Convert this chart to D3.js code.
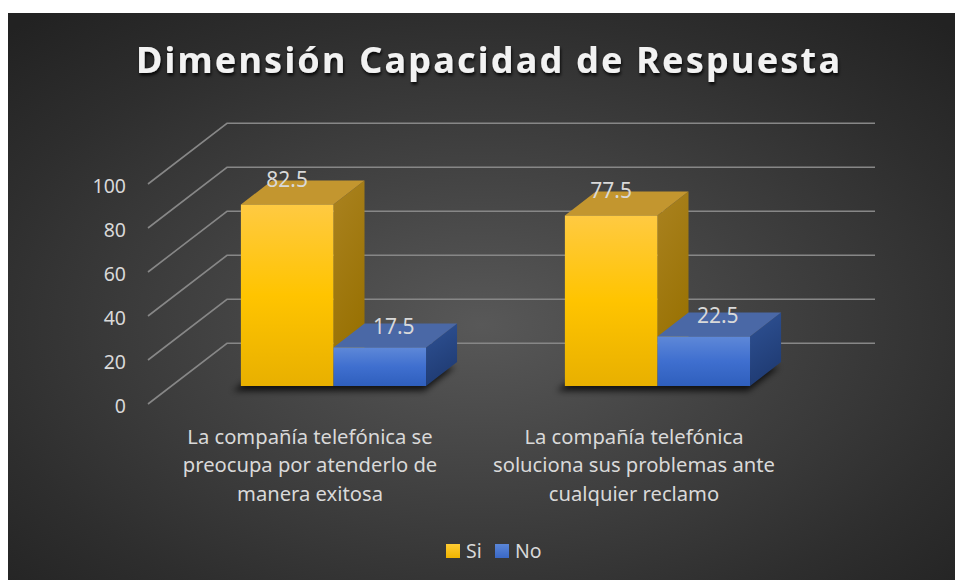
<!DOCTYPE html>
<html>
<head>
<meta charset="utf-8">
<script src="https://cdn.jsdelivr.net/npm/d3@7"></script>
<style>
  html, body { margin: 0; padding: 0; background: #fff; }
  svg { display: block; font-family: "Noto Sans", "Open Sans", sans-serif; }
</style>
</head>
<body>
<div id="chart"></div>
<script>
// chart data
const title = "Dimensión Capacidad de Respuesta";
const categoryLines = [
  ["La compañía telefónica se", "preocupa por atenderlo de", "manera exitosa"],
  ["La compañía telefónica", "soluciona sus problemas ante", "cualquier reclamo"]
];
const categories = categoryLines.map((l) => l.join(" "));
const seriesNames = ["Si", "No"];
const siValues = [82.5, 77.5];
const noValues = [17.5, 22.5];
const yTicks = [0, 20, 40, 60, 80, 100];

const width = 955, height = 580;
const frame = { left: 8, top: 13 };
const plot = { left: 148, right: 796, floor: 404, top: 184 };
const depth = { dx: 79, dy: -60.7 };
const barZ = [0.297, 0.69];

const seriesStyle = {
  Si: { front: ["#ffca42", "#ffc400", "#e8b000"], side: ["#aa8220", "#977000"], top: "#c3962f",
        legend: ["#ffcc33", "#f0b400"], labelDx: 0, labelDy: -17.5 },
  No: { front: ["#5e88d8", "#3f6fcf", "#2f5fbd"], side: ["#2f5295", "#1f3b73"], top: "#4a68a6",
        legend: ["#5a86d8", "#3a68c6"], labelDx: 14, labelDy: -13.6 }
};

const svg = d3.select("#chart").append("svg")
  .attr("width", width)
  .attr("height", height);

const defs = svg.append("defs");

const bg = defs.append("radialGradient").attr("id", "bg")
  .attr("cx", 0.5).attr("cy", 0.55).attr("r", 0.72);
bg.append("stop").attr("offset", 0).attr("stop-color", "#585858");
bg.append("stop").attr("offset", 0.75).attr("stop-color", "#2e2e2e");
bg.append("stop").attr("offset", 1).attr("stop-color", "#222");

const titleShadow = defs.append("filter").attr("id", "titleShadow")
  .attr("x", -0.1).attr("y", -0.3).attr("width", 1.2).attr("height", 1.6);
titleShadow.append("feDropShadow")
  .attr("dx", 1).attr("dy", 2.5).attr("stdDeviation", 1.6)
  .attr("flood-color", "#000").attr("flood-opacity", 0.85);

const floorBlur = defs.append("filter").attr("id", "floorBlur")
  .attr("x", -0.3).attr("y", -0.5).attr("width", 1.6).attr("height", 2);
floorBlur.append("feGaussianBlur").attr("stdDeviation", 3);

seriesNames.forEach((s) => {
  const st = seriesStyle[s];
  const fg = defs.append("linearGradient").attr("id", `front-${s}`)
    .attr("x1", 0).attr("y1", 0).attr("x2", 0).attr("y2", 1);
  st.front.forEach((c, i) => fg.append("stop").attr("offset", i / (st.front.length - 1)).attr("stop-color", c));
  const sg = defs.append("linearGradient").attr("id", `side-${s}`)
    .attr("x1", 0).attr("y1", 0).attr("x2", 0.3).attr("y2", 1);
  st.side.forEach((c, i) => sg.append("stop").attr("offset", i).attr("stop-color", c));
  const lg = defs.append("linearGradient").attr("id", `legend-${s}`)
    .attr("x1", 0).attr("y1", 0).attr("x2", 0).attr("y2", 1);
  st.legend.forEach((c, i) => lg.append("stop").attr("offset", i).attr("stop-color", c));
});

svg.append("rect")
  .attr("x", frame.left).attr("y", frame.top)
  .attr("width", width - frame.left).attr("height", height - frame.top)
  .attr("fill", "url(#bg)");

svg.append("text")
  .attr("x", 488).attr("y", 73)
  .attr("text-anchor", "middle")
  .attr("font-size", 36).attr("font-weight", 700)
  .attr("fill", "#f2f2f2")
  .attr("textLength", 704).attr("lengthAdjust", "spacing")
  .attr("filter", "url(#titleShadow)")
  .text(title);

// scales
const x = d3.scaleBand().domain(categories).range([plot.left, plot.right]);
const xs = d3.scaleBand().domain(seriesNames).range([0, x.bandwidth()])
  .paddingInner(0).paddingOuter(0.75);
const y = d3.scaleLinear().domain([0, 100]).range([plot.floor, plot.top]);

const proj = (px, py, z) => [px + z * depth.dx, py + z * depth.dy];
const pts = (arr) => arr.map((p) => p.join(",")).join(" ");

// gridlines: left wall diagonal + back wall
svg.append("g").attr("class", "grid")
  .selectAll("polyline")
  .data(yTicks)
  .join("polyline")
  .attr("points", (t) => pts([
    [plot.left, y(t)],
    proj(plot.left, y(t), 1),
    proj(plot.right, y(t), 1)
  ]))
  .attr("fill", "none")
  .attr("stroke", "#878787")
  .attr("stroke-width", 1.6);

// y axis labels
const yAxisG = svg.append("g")
  .attr("transform", `translate(${plot.left},2)`)
  .call(d3.axisLeft(y).tickValues(yTicks).tickSize(0).tickPadding(22));
yAxisG.select(".domain").remove();
yAxisG.selectAll("text")
  .attr("font-size", 19.5).attr("fill", "#d9d9d9")
  .attr("font-family", "'Noto Sans', sans-serif");

// category labels
const xAxisG = svg.append("g")
  .attr("transform", `translate(0,${plot.floor})`)
  .call(d3.axisBottom(x).tickSize(0).tickPadding(0));
xAxisG.select(".domain").remove();
xAxisG.selectAll("text")
  .attr("font-size", 20.2).attr("fill", "#d9d9d9")
  .attr("font-family", "'Noto Sans', sans-serif")
  .attr("dy", null).attr("y", 0)
  .each(function (d, i) {
    const t = d3.select(this).text(null);
    categoryLines[i].forEach((line, j) => {
      t.append("tspan").attr("x", 0).attr("y", 39.5 + j * 28.5).text(line);
    });
  });

// bars
const rows = categories.map((c, i) => ({ category: c, values: { Si: siValues[i], No: noValues[i] } }));
const barData = rows.flatMap((r) => seriesNames.map((s) => ({ category: r.category, series: s, value: r.values[s] })));

const geom = (d) => {
  const xl = x(d.category) + xs(d.series);
  const xr = xl + xs.bandwidth();
  const yt = y(d.value), yb = y(0);
  return { xl, xr, yt, yb };
};

// floor shadows
svg.append("g").attr("class", "shadows")
  .selectAll("polygon")
  .data(categories)
  .join("polygon")
  .attr("points", (c) => {
    const xl = x(c) + xs(seriesNames[0]) - 8;
    const xr = x(c) + xs(seriesNames[seriesNames.length - 1]) + xs.bandwidth() - 2;
    const yb = y(0) + 5;
    return pts([proj(xl, yb, barZ[0]), proj(xr, yb, barZ[0]), proj(xr, yb, barZ[1]), proj(xl, yb, barZ[1])]);
  })
  .attr("fill", "#000")
  .attr("opacity", 0.75)
  .attr("filter", "url(#floorBlur)");

const bars = svg.append("g").attr("class", "bars")
  .selectAll("g")
  .data(barData)
  .join("g");

bars.append("polygon")
  .attr("points", (d) => {
    const g = geom(d);
    return pts([proj(g.xr, g.yt, barZ[0]), proj(g.xr, g.yt, barZ[1]), proj(g.xr, g.yb, barZ[1]), proj(g.xr, g.yb, barZ[0])]);
  })
  .attr("fill", (d) => `url(#side-${d.series})`);

bars.append("polygon")
  .attr("points", (d) => {
    const g = geom(d);
    return pts([proj(g.xl, g.yt, barZ[0]), proj(g.xr, g.yt, barZ[0]), proj(g.xr, g.yt, barZ[1]), proj(g.xl, g.yt, barZ[1])]);
  })
  .attr("fill", (d) => seriesStyle[d.series].top);

bars.append("polygon")
  .attr("points", (d) => {
    const g = geom(d);
    return pts([proj(g.xl, g.yt, barZ[0]), proj(g.xr, g.yt, barZ[0]), proj(g.xr, g.yb, barZ[0]), proj(g.xl, g.yb, barZ[0])]);
  })
  .attr("fill", (d) => `url(#front-${d.series})`);

// value labels
svg.append("g").attr("class", "labels")
  .selectAll("text")
  .data(barData)
  .join("text")
  .attr("x", (d) => {
    const g = geom(d);
    return proj((g.xl + g.xr) / 2, g.yt, barZ[0])[0] + seriesStyle[d.series].labelDx;
  })
  .attr("y", (d) => proj(0, geom(d).yt, barZ[0])[1] + seriesStyle[d.series].labelDy)
  .attr("text-anchor", "middle")
  .attr("font-size", 21)
  .attr("fill", "#d9d9d9")
  .text((d) => d.value);

// legend
const legendX = d3.scaleOrdinal().domain(seriesNames).range([446, 495]);
const legend = svg.append("g").attr("class", "legend")
  .selectAll("g")
  .data(seriesNames)
  .join("g")
  .attr("transform", (s) => `translate(${legendX(s)},544)`);
legend.append("rect")
  .attr("width", 14).attr("height", 14)
  .attr("fill", (s) => `url(#legend-${s})`);
legend.append("text")
  .attr("x", 20).attr("y", 14)
  .attr("font-size", 19.5)
  .attr("fill", "#d9d9d9")
  .text((s) => s);
</script>
</body>
</html>
